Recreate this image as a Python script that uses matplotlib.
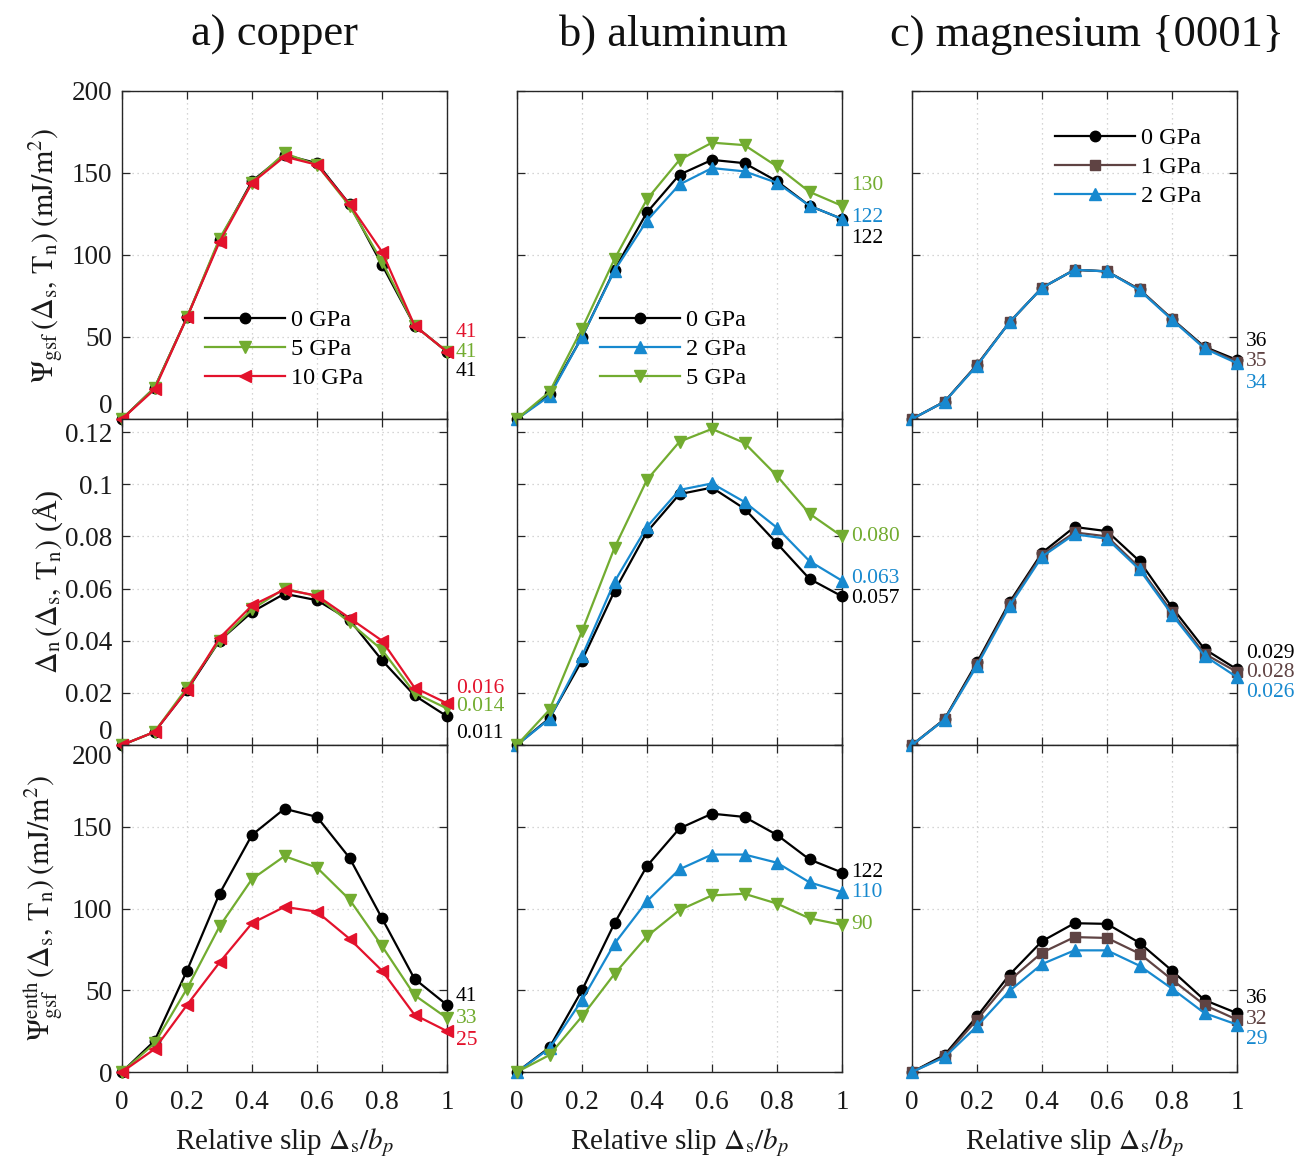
import matplotlib
matplotlib.use("Agg")
import matplotlib.pyplot as plt
import numpy as np

plt.rcParams['font.family'] = ['Liberation Serif', 'DejaVu Serif']
plt.rcParams['mathtext.fontset'] = 'stix'

# ---------------- data ----------------
slip = [0, 0.1, 0.2, 0.3, 0.4, 0.5, 0.6, 0.7, 0.8, 0.9, 1.0]

cu_pressures = ['0 GPa', '5 GPa', '10 GPa']
cu_gsf_0 = [0, 19, 62, 109, 145, 161, 156, 131, 94, 57, 41]
cu_gsf_5 = [0, 19, 62, 110, 144, 162, 155, 130, 96, 57, 41]
cu_gsf_10 = [0, 18, 62, 108, 144, 160, 155, 131, 102, 57, 41]
cu_dn_0 = [0, 0.005, 0.021, 0.040, 0.051, 0.058, 0.0555, 0.048, 0.0325, 0.019, 0.011]
cu_dn_5 = [0, 0.005, 0.022, 0.040, 0.052, 0.060, 0.057, 0.047, 0.0365, 0.020, 0.014]
cu_dn_10 = [0, 0.005, 0.021, 0.041, 0.0535, 0.0596, 0.0573, 0.0487, 0.040, 0.022, 0.016]
cu_enth_0 = [0, 19, 62, 109, 145, 161, 156, 131, 94, 57, 41]
cu_enth_5 = [0, 17.5, 51, 89, 118, 132, 125, 105.5, 77, 47, 33]
cu_enth_10 = [0, 14, 41, 67, 91, 101, 98, 81.5, 62, 35, 25]

al_pressures = ['0 GPa', '2 GPa', '5 GPa']
al_gsf_0 = [0, 15, 50, 91, 126, 149, 158, 156, 145, 130, 122]
al_gsf_2 = [0, 14, 50, 90.5, 121, 143, 153, 151, 144, 130, 122]
al_gsf_5 = [0, 16.5, 55, 97.5, 134, 158, 168.5, 167, 154, 138.5, 130]
al_dn_0 = [0, 0.0103, 0.0324, 0.059, 0.0817, 0.0962, 0.0987, 0.0906, 0.0773, 0.0637, 0.057]
al_dn_2 = [0, 0.010, 0.034, 0.0626, 0.0837, 0.0978, 0.1003, 0.0932, 0.0833, 0.0705, 0.063]
al_dn_5 = [0, 0.0135, 0.0436, 0.0756, 0.1017, 0.1163, 0.1212, 0.1158, 0.1032, 0.0887, 0.080]
al_enth_0 = [0, 15, 50, 91, 126, 149, 158, 156, 145, 130, 122]
al_enth_2 = [0, 14.4, 44, 78.5, 104.5, 124, 133, 133, 128, 116, 110]
al_enth_5 = [0, 10.4, 34, 60, 83, 99, 108, 109, 103, 94, 90]

mg_pressures = ['0 GPa', '1 GPa', '2 GPa']
mg_gsf_0 = [0, 10.6, 33, 59, 80, 91, 90, 79, 61, 44, 36]
mg_gsf_1 = [0, 10.5, 33, 59, 80, 91, 90, 79, 61, 43.5, 35]
mg_gsf_2 = [0, 10.5, 32.5, 59, 80, 91, 90, 78.5, 60.5, 43, 34]
mg_dn_0 = [0, 0.0099, 0.0317, 0.0547, 0.0737, 0.0836, 0.082, 0.0705, 0.0528, 0.0368, 0.029]
mg_dn_1 = [0, 0.0098, 0.031, 0.054, 0.073, 0.0815, 0.080, 0.068, 0.051, 0.035, 0.028]
mg_dn_2 = [0, 0.0097, 0.0304, 0.0532, 0.0722, 0.0808, 0.0791, 0.0673, 0.050, 0.0342, 0.026]
mg_enth_0 = [0, 10.4, 34, 59.5, 80, 91, 90.6, 79, 62, 44, 36]
mg_enth_1 = [0, 9.5, 32, 56, 73, 82.5, 82, 72.4, 56.5, 41, 32]
mg_enth_2 = [0, 9, 28, 49.6, 66, 74.4, 74.4, 65, 51, 36, 29]

# end labels
cu_gsf_labels = ['41', '41', '41']
cu_dn_labels = ['0.011', '0.014', '0.016']
cu_enth_labels = ['41', '33', '25']
al_gsf_labels = ['122', '122', '130']
al_dn_labels = ['0.057', '0.063', '0.080']
al_enth_labels = ['122', '110', '90']
mg_gsf_labels = ['36', '35', '34']
mg_dn_labels = ['0.029', '0.028', '0.026']
mg_enth_labels = ['36', '32', '29']

titles = ['a) copper', 'b) aluminum', 'c) magnesium {0001}']
energy_ticks = [0, 50, 100, 150, 200]
dn_ticks = [0, 0.02, 0.04, 0.06, 0.08, 0.1, 0.12]
dn_ticklabels = ['0', '0.02', '0.04', '0.06', '0.08', '0.1', '0.12']
x_ticks = [0, 0.2, 0.4, 0.6, 0.8, 1.0]
x_ticklabels = ['0', '0.2', '0.4', '0.6', '0.8', '1']

# ---------------- styles ----------------
BLACK = '#000000'
GREEN = '#72AC30'
RED = '#E3122C'
BLUE = '#1789CF'
BROWN = '#5F4343'

col_styles = [
    [(BLACK, 'o', 7.5), (GREEN, 'v', 9), (RED, '<', 9)],
    [(BLACK, 'o', 7.5), (BLUE, '^', 9), (GREEN, 'v', 9)],
    [(BLACK, 'o', 7.5), (BROWN, 's', 7), (BLUE, '^', 9)],
]

panels = [
    [[cu_gsf_0, cu_gsf_5, cu_gsf_10], [cu_dn_0, cu_dn_5, cu_dn_10], [cu_enth_0, cu_enth_5, cu_enth_10]],
    [[al_gsf_0, al_gsf_2, al_gsf_5], [al_dn_0, al_dn_2, al_dn_5], [al_enth_0, al_enth_2, al_enth_5]],
    [[mg_gsf_0, mg_gsf_1, mg_gsf_2], [mg_dn_0, mg_dn_1, mg_dn_2], [mg_enth_0, mg_enth_1, mg_enth_2]],
]
labels_end = [
    [cu_gsf_labels, cu_dn_labels, cu_enth_labels],
    [al_gsf_labels, al_dn_labels, al_enth_labels],
    [mg_gsf_labels, mg_dn_labels, mg_enth_labels],
]
pressures = [cu_pressures, al_pressures, mg_pressures]

# vertical pixel offsets of end labels (positive = down)
label_dy = [
    [[20, 1, -19], [17, -2, -15], [-8, 0, 9]],
    [[20, -1, -20], [2, -2, 0], [0, 0, 0]],
    [[-18, 0, 20], [-16, 1, 15], [-15, 0, 15]],
]
title_x = [0.47, 0.48, 0.54]

W, H = 1306, 1162
fig = plt.figure(figsize=(W / 100, H / 100), dpi=100)

col_left = [122, 517, 912]
ax_w = 325
row_top = [91, 419, 745]
row_h = [328, 326, 327]

SPINE = '#262626'
TICKFS = 19.5
ylabels = [r'$\Psi_{\rm gsf}\,(\Delta_{\rm s},\,{\rm T_n})\;({\rm mJ/m^2})$',
           r'$\Delta_{\rm n}\,(\Delta_{\rm s},\,{\rm T_n})$ (Å)',
           r'$\Psi^{\rm enth}_{\rm gsf}\,(\Delta_{\rm s},\,{\rm T_n})\;({\rm mJ/m^2})$']

for c in range(3):
    for r in range(3):
        left = col_left[c] / W
        bottom = 1 - (row_top[r] + row_h[r]) / H
        ax = fig.add_axes([left, bottom, ax_w / W, row_h[r] / H])
        series = panels[c][r]
        handles = []
        for i in range(3):
            color, mk, ms = col_styles[c][i]
            h, = ax.plot(slip, series[i], color=color, marker=mk, markersize=ms,
                         linewidth=1.6, markerfacecolor=color, markeredgecolor=color,
                         clip_on=False, zorder=3 + i, label=pressures[c][i])
            handles.append(h)
        ax.set_xlim(0, 1)
        if r == 1:
            ax.set_ylim(0, 0.125)
            ax.set_yticks(dn_ticks)
        else:
            ax.set_ylim(0, 200)
            ax.set_yticks(energy_ticks)
        ax.set_xticks(x_ticks)
        ax.grid(True, color='#c8c8c8', linestyle=(0, (1, 3)), linewidth=0.9)
        ax.tick_params(direction='in', length=6, width=0.9, top=True, right=True,
                       labelsize=TICKFS, colors='#262626', labelcolor='#1a1a1a', pad=7)
        ax.tick_params(axis='x', pad=13)
        for s in ax.spines.values():
            s.set_color(SPINE)
            s.set_linewidth(1.0)
        if c == 0:
            if r == 1:
                ax.set_yticklabels(dn_ticklabels)
            else:
                ax.set_yticklabels([str(t) for t in energy_ticks])
            ax.set_ylabel(ylabels[r], fontsize=21.5, color='#1a1a1a')
            ax.yaxis.set_label_coords(-0.175, 0.5)
            tl = ax.get_yticklabels()
            if r in (0, 1):
                tl[0].set_va('bottom')
            if r == 2:
                tl[-1].set_va('top')
        else:
            ax.set_yticklabels([])
        if r == 2:
            ax.set_xticklabels(x_ticklabels)
            ax.set_xlabel(r'Relative slip $\Delta_{\rm s}/b_p$', fontsize=21,
                          color='#1a1a1a', labelpad=8)
        else:
            ax.set_xticklabels([])
        if r == 0:
            t = ax.set_title(titles[c], fontsize=32, pad=33, color='#111111')
            t.set_x(title_x[c])
        # end labels
        for i in range(3):
            color = col_styles[c][i][0]
            ax.annotate(labels_end[c][r][i], xy=(1.0, series[i][-1]),
                        xytext=(6.5, -label_dy[c][r][i] * 0.72), textcoords='offset points',
                        ha='left', va='center', fontsize=15.5, color=color,
                        annotation_clip=False)
        # legends
        if r == 0:
            if c < 2:
                anchor = (0.255, 0.335)
            else:
                anchor = (0.44, 0.89)
            ax.legend(handles=handles, loc='upper left', bbox_to_anchor=anchor,
                      frameon=False, fontsize=17.5, handlelength=3.3,
                      handletextpad=0.25, labelspacing=0.29, borderpad=0,
                      borderaxespad=0)

fig.savefig('out.png', dpi=100)
